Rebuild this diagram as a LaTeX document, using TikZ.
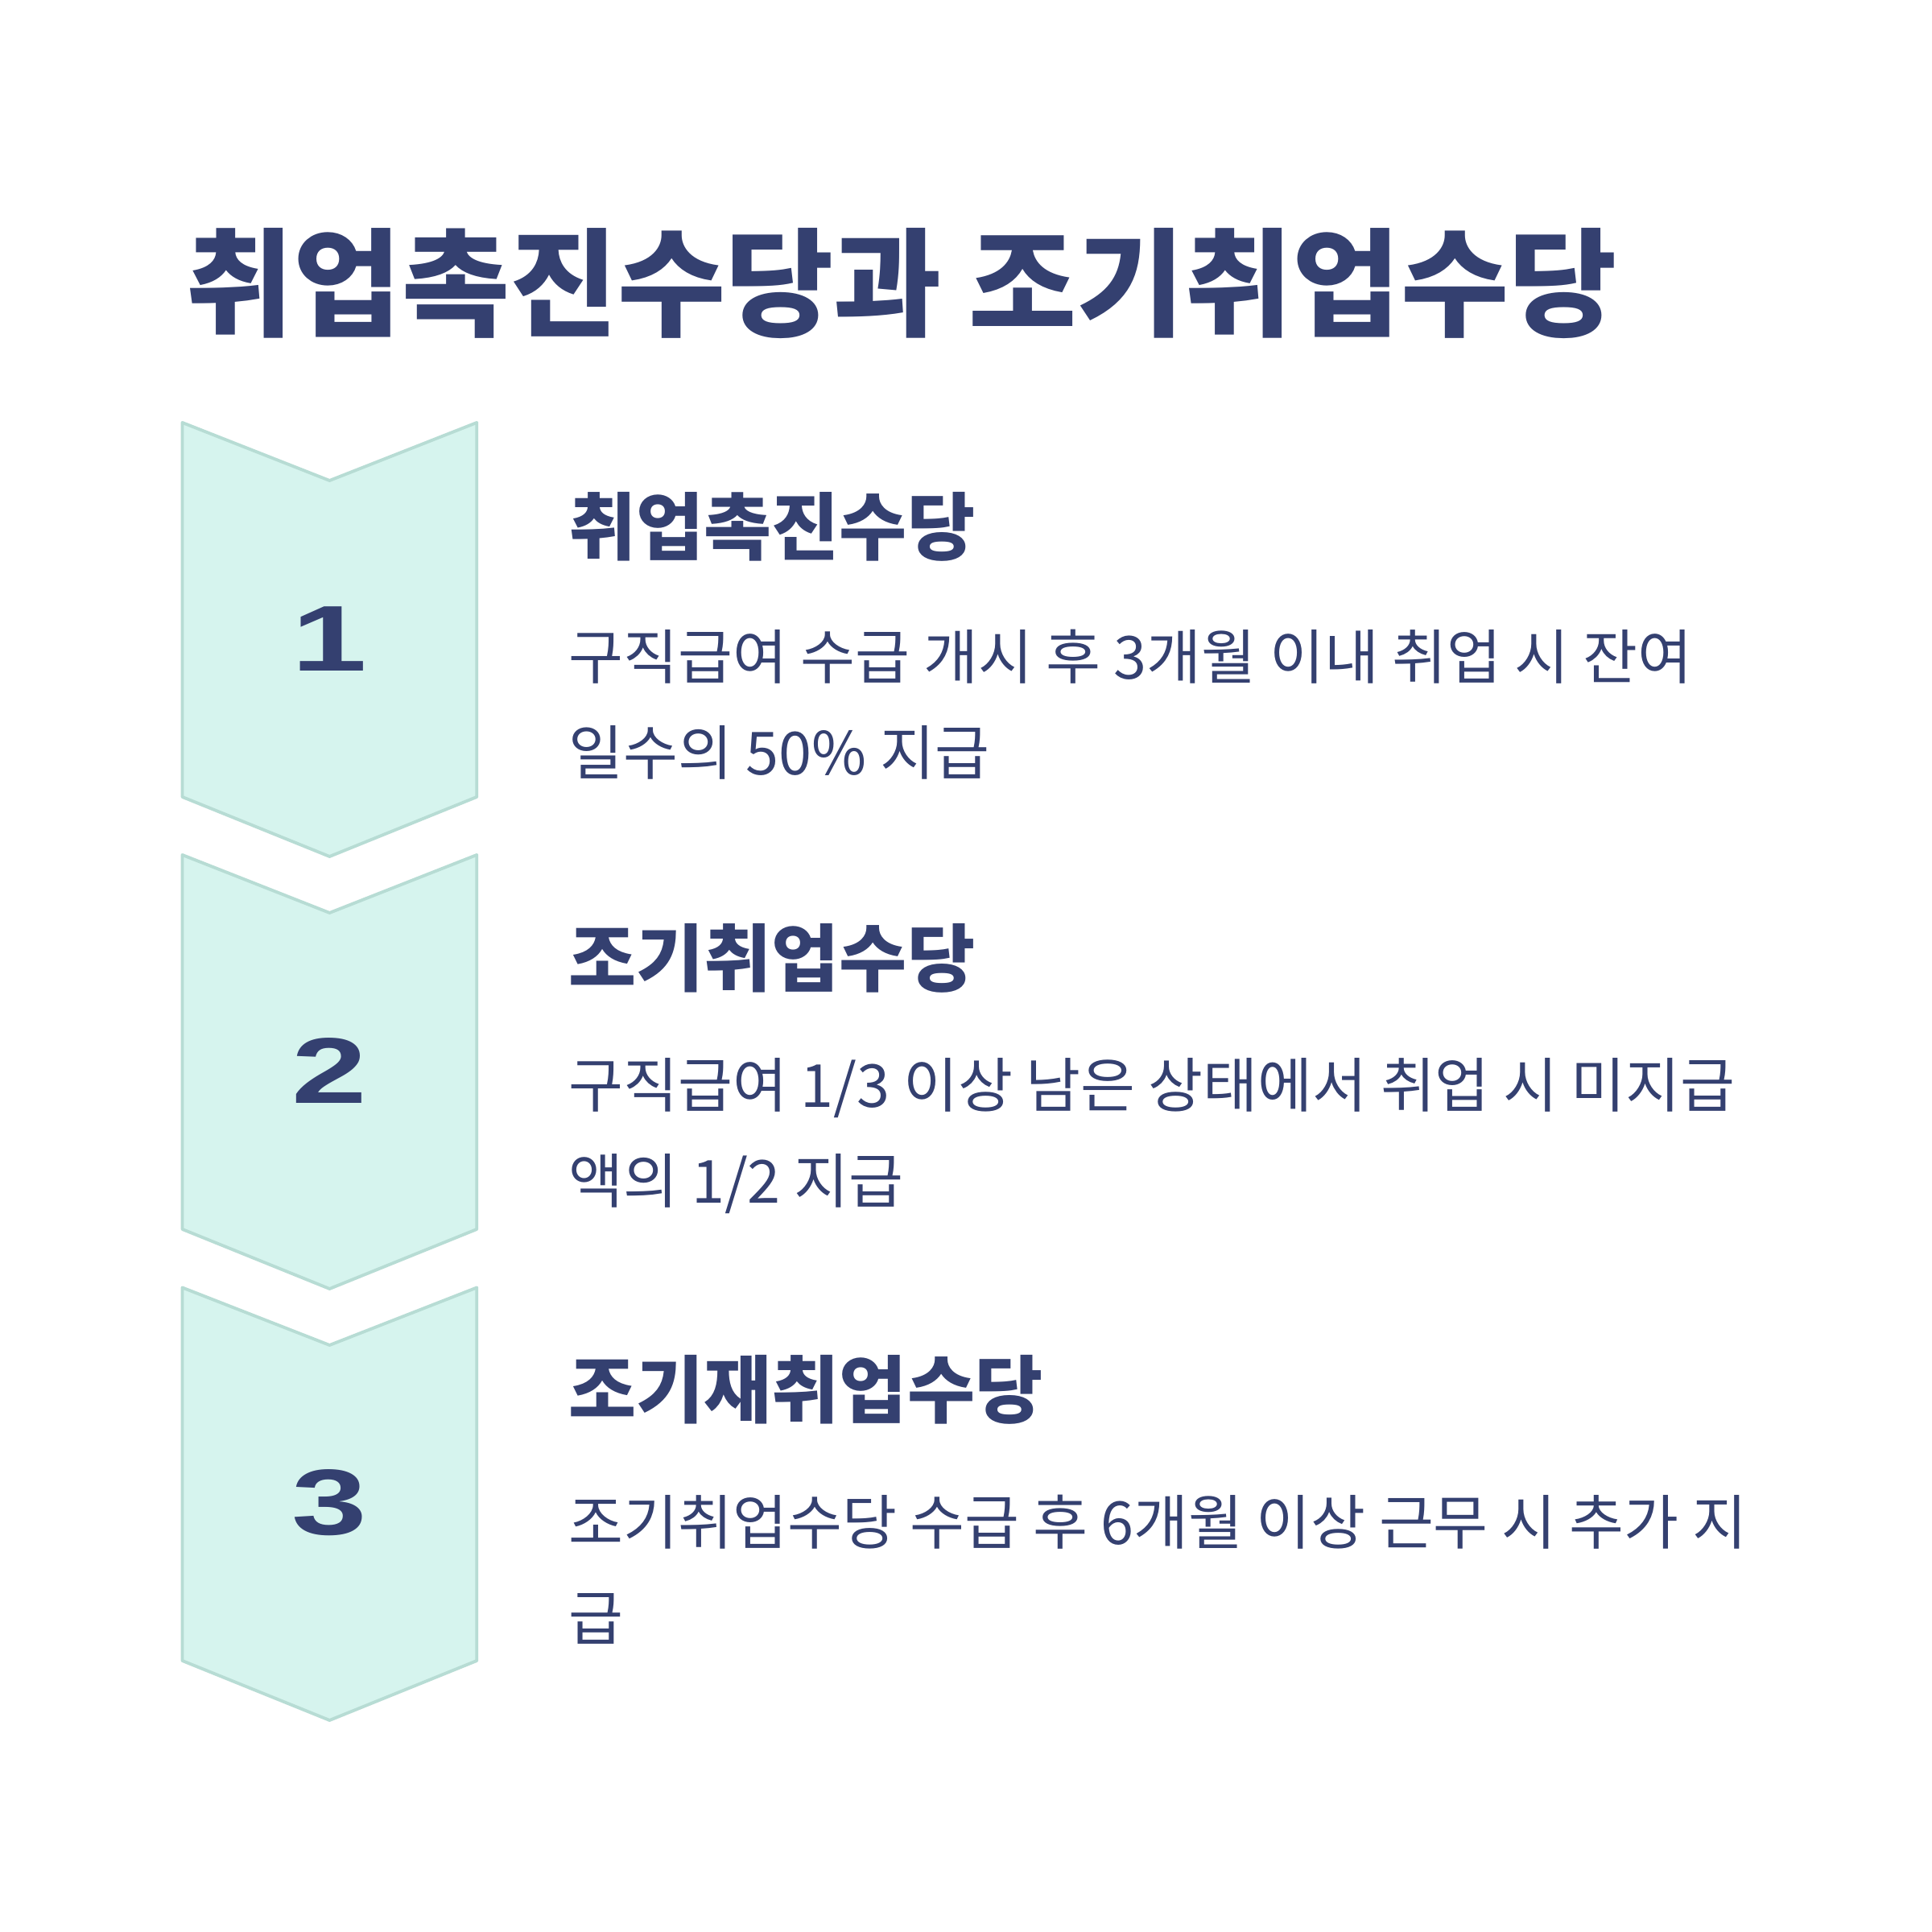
\documentclass[tikz,border=0pt]{standalone}
\usepackage{fontspec}
\setmainfont{Noto Sans CJK KR}
\newfontfamily\numfont{Liberation Sans}
\usetikzlibrary{positioning}

\definecolor{navy}{RGB}{52,64,112}
\definecolor{chevfill}{RGB}{214,244,238}
\definecolor{chevline}{RGB}{183,220,212}

\begin{document}
\begin{tikzpicture}[
    chev/.style={draw=chevline,fill=chevfill,line width=1.1pt,line join=round},
    num/.style={text=navy,inner sep=0pt,font=\numfont\bfseries\fontsize{33}{40}\selectfont},
    head/.style={anchor=west,text=navy,inner sep=0pt,font=\bfseries\fontsize{26}{30}\selectfont},
    desc/.style={anchor=west,align=left,text=navy,inner sep=0pt,font=\fontsize{21}{33.9}\selectfont}]
  \fill[white](0,0) rectangle (24,24);
  \useasboundingbox (0,0) rectangle (24,24);

  % title
  \node[anchor=west,text=navy,inner sep=0pt,font=\bfseries\fontsize{41.5}{48}\selectfont]
    (title) at (2.30,20.48) {취업촉진수당과 조기취업수당};

  % chevrons
  \draw[chev](2.265,18.75)--(4.094,18.03)--(5.923,18.75)--(5.923,14.10)--(4.094,13.36)--(2.265,14.10)--cycle;
  \draw[chev](2.265,13.38)--(4.094,12.66)--(5.923,13.38)--(5.923,8.73)--(4.094,7.99)--(2.265,8.73)--cycle;
  \draw[chev](2.265,8.005)--(4.094,7.29)--(5.923,8.005)--(5.923,3.37)--(4.094,2.63)--(2.265,3.37)--cycle;

  \node[num] (n1) at (4.094,16.06) {\scalebox{1.45}[1]{1}};
  \node[num] (n2) at (4.094,10.70) {\scalebox{1.45}[1]{2}};
  \node[num] (n3) at (4.094,5.33) {\scalebox{1.45}[1]{3}};

  % step 1
  \node[head] (h1) at (7.06,17.46) {취업촉진수당};
  \node[desc] (d1) at (7.06,15.245) {구직급여 수급 개시 후 3개월 이내 취업 시 잔여\\일수의 50\% 지급};

  % step 2
  \node[head] (h2) at (7.06,12.10) {조기취업수당};
  \node[desc] (d2) at (7.06,9.89) {구직급여 1/3 이상 남은 상태에서 취업 시 미지급\\액의 1/2 지급};

  % step 3
  \node[head] (h3) at (7.06,6.74) {조기재취업수당};
  \node[desc] (d3) at (7.06,4.505) {조기취업수당 수급 후 6개월 이상 근무 시 추가 지\\급};
\end{tikzpicture}
\end{document}
